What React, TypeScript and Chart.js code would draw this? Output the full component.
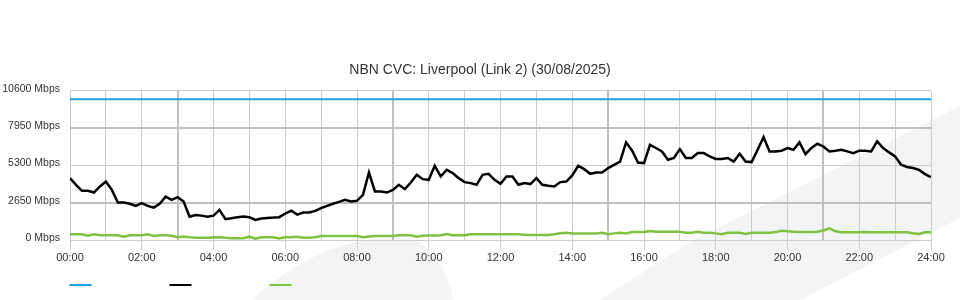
import React, { useEffect, useRef } from "react";
import { Chart, registerables } from "chart.js";

Chart.register(...registerables);

const TITLE = "NBN CVC: Liverpool (Link 2) (30/08/2025)";
const INTERVAL_MIN = 10;
const X_TICK_HOURS = [0, 1, 2, 3, 4, 5, 6, 7, 8, 9, 10, 11, 12, 13, 14, 15, 16, 17, 18, 19, 20, 21, 22, 23, 24];
const Y_TICKS = [0, 2650, 5300, 7950, 10600];
const SERIES_NAMES = ["Capacity", "Traffic", "Lower"];
const SERIES_COLORS = ["#1ba1e2", "#000000", "#7fc241"];
const CAPACITY_MBPS = 10000;

const TRAFFIC_MBPS = [
  4390, 3920, 3490, 3490, 3370, 3800, 4150, 3560, 2660, 2660, 2570, 2420,
  2620, 2420, 2300, 2570, 3080, 2850, 3040, 2730, 1660, 1780, 1730, 1660,
  1730, 2140, 1480, 1550, 1620, 1660, 1620, 1430, 1520, 1570, 1590, 1620,
  1880, 2080, 1800, 1950, 1950, 2070, 2260, 2420, 2570, 2710, 2850, 2730,
  2780, 3200, 4790, 3450, 3440, 3370, 3560, 3920, 3610, 4080, 4630, 4320,
  4270, 5270, 4510, 4980, 4750, 4390, 4110, 4040, 3920, 4630, 4700, 4270,
  3990, 4510, 4510, 3920, 4040, 3970, 4390, 3920, 3850, 3800, 4110, 4150,
  4580, 5270, 5030, 4700, 4790, 4790, 5110, 5340, 5570, 6930, 6360, 5500,
  5460, 6760, 6530, 6290, 5700, 5820, 6450, 5820, 5820, 6170, 6170, 5930,
  5750, 5750, 5820, 5570, 6120, 5570, 5530, 6410, 7310, 6290, 6290, 6340,
  6530, 6410, 6930, 6100, 6530, 6830, 6640, 6290, 6340, 6410, 6290, 6170,
  6340, 6340, 6290, 7000, 6530, 6220, 5930, 5340, 5180, 5110, 4980, 4680,
  4460,
];

const LOWER_MBPS = [
  404, 404, 404, 300, 404, 333, 333, 333, 333, 236, 333, 333,
  333, 404, 284, 333, 333, 300, 200, 250, 200, 165, 165, 165,
  175, 192, 160, 120, 120, 120, 236, 90, 192, 192, 192, 100,
  192, 192, 236, 165, 165, 200, 284, 284, 284, 284, 284, 284,
  284, 200, 250, 284, 284, 284, 284, 333, 333, 333, 236, 300,
  320, 320, 333, 426, 333, 333, 333, 404, 404, 404, 404, 404,
  404, 404, 404, 404, 380, 355, 355, 355, 355, 404, 480, 520,
  470, 470, 470, 470, 470, 520, 404, 470, 520, 470, 560, 560,
  568, 640, 590, 590, 590, 590, 590, 520, 520, 590, 520, 520,
  470, 404, 520, 520, 520, 430, 520, 520, 520, 520, 560, 660,
  620, 590, 560, 560, 560, 590, 680, 830, 620, 546, 546, 546,
  546, 560, 546, 546, 546, 546, 546, 546, 546, 480, 426, 546,
  546,
];

const FONT = '"Liberation Sans", Arial, Helvetica, sans-serif';

const watermarkPlugin = {
  id: "watermark",
  beforeDraw(chart: any) {
    const ctx = chart.ctx;
    ctx.save();
    ctx.fillStyle = "#f3f4f6";
    ctx.beginPath();
    ctx.moveTo(600, 300);
    ctx.lineTo(690, 242);
    ctx.lineTo(960, 106);
    ctx.lineTo(960, 218);
    ctx.lineTo(800, 300);
    ctx.closePath();
    ctx.fill();
    ctx.beginPath();
    ctx.moveTo(252, 300);
    ctx.bezierCurveTo(285, 270, 325, 245, 370, 240);
    ctx.quadraticCurveTo(405, 235, 420, 242);
    ctx.bezierCurveTo(435, 255, 450, 275, 453, 300);
    ctx.closePath();
    ctx.fill();
    ctx.restore();
  },
};

const swatchLegendPlugin = {
  id: "swatchLegend",
  afterDraw(chart: any) {
    const ctx = chart.ctx;
    const left = chart.chartArea.left;
    ctx.save();
    chart.data.datasets.forEach((ds: any, i: number) => {
      ctx.fillStyle = ds.borderColor;
      ctx.fillRect(left - 0.5 + i * 100, 284, 22, 2);
    });
    ctx.restore();
  },
};

const pad2 = (n: number) => String(n).padStart(2, "0");

export default function App() {
  const ref = useRef<HTMLCanvasElement | null>(null);

  useEffect(() => {
    if (!ref.current) return;
    const toPoints = (arr: number[]) => arr.map((v, i) => ({ x: i * INTERVAL_MIN, y: v }));
    const lastMinute = (TRAFFIC_MBPS.length - 1) * INTERVAL_MIN;
    const chart = new Chart(ref.current, {
      type: "line",
      data: {
        datasets: [
          {
            label: SERIES_NAMES[0],
            data: [
              { x: 0, y: CAPACITY_MBPS },
              { x: lastMinute, y: CAPACITY_MBPS },
            ],
            borderColor: SERIES_COLORS[0],
            backgroundColor: SERIES_COLORS[0],
            borderWidth: 2,
            pointRadius: 0,
          },
          {
            label: SERIES_NAMES[1],
            data: toPoints(TRAFFIC_MBPS),
            borderColor: SERIES_COLORS[1],
            backgroundColor: SERIES_COLORS[1],
            borderWidth: 2.5,
            pointRadius: 0,
            tension: 0,
          },
          {
            label: SERIES_NAMES[2],
            data: toPoints(LOWER_MBPS),
            borderColor: SERIES_COLORS[2],
            backgroundColor: SERIES_COLORS[2],
            borderWidth: 2.5,
            pointRadius: 0,
            tension: 0,
          },
        ],
      },
      options: {
        animation: false,
        responsive: false,
        layout: { padding: { top: 0, right: 0, left: 0, bottom: 0 } },
        plugins: {
          legend: { display: false },
          tooltip: { enabled: false },
          title: {
            display: true,
            text: TITLE,
            color: "#333333",
            font: { size: 14, family: FONT, weight: "normal" },
            padding: { top: 61.6, bottom: 12.3 },
          },
        },
        scales: {
          x: {
            type: "linear",
            min: 0,
            max: 24 * 60,
            afterBuildTicks: (s: any) => {
              s.ticks = X_TICK_HOURS.map((h) => ({ value: h * 60 }));
            },
            afterFit: (s: any) => {
              s.height = 60;
            },
            ticks: {
              autoSkip: false,
              maxRotation: 0,
              padding: 1,
              color: "#333333",
              font: { size: 11, family: FONT },
              callback: (v: any) => {
                const h = Math.round(Number(v) / 60);
                return h % 2 === 0 ? `${pad2(h)}:00` : "";
              },
            },
            grid: {
              drawTicks: true,
              tickLength: 10,
              color: (c: any) => {
                const h = c.tick ? Math.round(c.tick.value / 60) : 0;
                return h % 6 === 3 ? "#c0c0c0" : "#cccccc";
              },
              lineWidth: (c: any) => {
                const h = c.tick ? Math.round(c.tick.value / 60) : 0;
                return h % 6 === 3 ? 2 : 1;
              },
              tickColor: (c: any) => {
                const h = c.tick ? Math.round(c.tick.value / 60) : 0;
                return h % 2 === 0 ? "#cccccc" : "rgba(0,0,0,0)";
              },
            },
            border: { display: false },
          },
          y: {
            type: "linear",
            position: "left",
            min: Y_TICKS[0],
            max: Y_TICKS[Y_TICKS.length - 1],
            afterBuildTicks: (s: any) => {
              s.ticks = Y_TICKS.map((v) => ({ value: v }));
            },
            afterFit: (s: any) => {
              s.width = 70;
            },
            ticks: {
              padding: 10,
              labelOffset: -2,
              color: "#333333",
              font: { size: 10.5, family: FONT },
              callback: (v: any) => `${v} Mbps`,
            },
            grid: {
              drawTicks: false,
              color: (c: any) => {
                const v = c.tick ? c.tick.value : 0;
                return v === 7950 || v === 2650 ? "#c0c0c0" : "#cccccc";
              },
              lineWidth: (c: any) => {
                const v = c.tick ? c.tick.value : 0;
                return v === 7950 || v === 2650 ? 2 : 1;
              },
            },
            border: { display: false },
          },
          yRight: {
            type: "linear",
            position: "right",
            min: Y_TICKS[0],
            max: Y_TICKS[Y_TICKS.length - 1],
            afterFit: (s: any) => {
              s.width = 29;
            },
            ticks: { display: false },
            grid: { display: false, drawTicks: false },
            border: { display: false },
          },
        },
      },
      plugins: [watermarkPlugin, swatchLegendPlugin],
    } as any);
    return () => chart.destroy();
  }, []);

  return (
    <div style={{ position: "fixed", left: 0, top: 0, width: 960, height: 300, background: "#ffffff" }}>
      <canvas ref={ref} width={960} height={300} style={{ display: "block", width: 960, height: 300 }} />
    </div>
  );
}
